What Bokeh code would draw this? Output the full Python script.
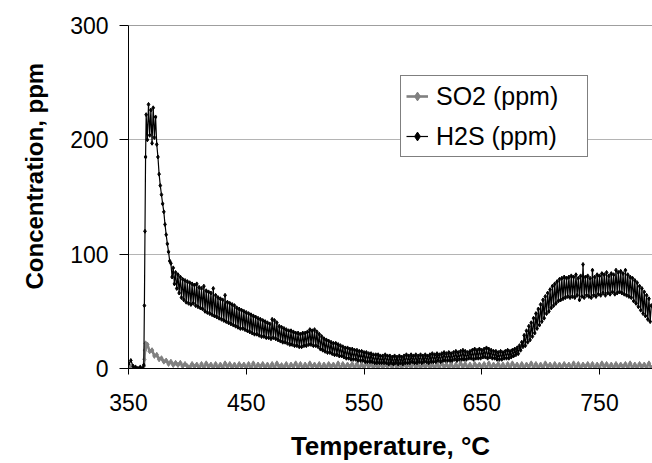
from bokeh.plotting import figure
from bokeh.models import (Range1d, FixedTicker, Span, Title, Legend, LegendItem)
from bokeh.embed import file_html
from bokeh.resources import INLINE

h2s_temp = [350, 352, 354, 356, 358, 360, 362, 363, 363.5, 364, 364.5] + list(range(365, 795))
h2s = [
    4, 7, 2, 1, 0, 1, 0, 3, 55, 120, 185,
    # 365-385
    222, 200, 231, 204, 226, 197, 228, 202, 220, 196,
    185, 170, 160, 152, 144, 137, 126, 117, 109, 102, 94,
    # 386-405
    92, 80, 88, 74, 84, 70, 82, 66, 80, 62, 78, 60, 77, 58, 76, 57, 75, 56, 74, 57,
    # 406-425
    73, 55, 74, 54, 71, 53, 70, 52, 72, 50, 68, 49, 67, 48, 66, 47, 70, 46, 64, 45,
    # 426-445
    62, 44, 61, 43, 60, 42, 64, 41, 58, 40, 57, 39, 56, 38, 55, 37, 53, 36, 52, 35,
    # 446-465
    51, 35, 50, 34, 49, 33, 48, 32, 47, 31, 46, 30, 45, 30, 44, 29, 43, 28, 42, 28,
    # 466-485
    41, 27, 40, 27, 39, 26, 43, 27, 42, 26, 40, 25, 37, 24, 36, 23, 35, 23, 34, 22,
    # 486-505
    33, 21, 33, 21, 32, 20, 31, 20, 31, 19, 30, 19, 31, 20, 31, 20, 32, 21, 34, 21,
    # 506-525
    33, 20, 34, 20, 32, 19, 30, 17, 28, 16, 26, 15, 25, 14, 24, 14, 23, 13, 22, 12,
    # 526-545
    22, 12, 21, 11, 20, 11, 19, 10, 18, 9, 18, 9, 17, 8, 17, 8, 16, 8, 16, 7,
    # 546-565
    15, 7, 15, 7, 14, 6, 14, 6, 13, 6, 13, 6, 12, 5, 12, 5, 12, 5, 11, 5,
    # 566-585
    11, 5, 12, 5, 11, 4, 11, 5, 10, 4, 11, 5, 10, 4, 11, 5, 10, 4, 11, 5,
    # 586-605
    12, 5, 11, 5, 12, 6, 11, 5, 12, 5, 11, 6, 12, 5, 11, 6, 12, 6, 11, 5,
    # 606-625
    12, 6, 13, 6, 12, 6, 13, 7, 12, 6, 13, 7, 14, 7, 13, 7, 14, 7, 13, 7,
    # 626-645
    14, 8, 15, 7, 14, 8, 15, 8, 16, 8, 15, 8, 14, 9, 15, 9, 16, 8, 17, 9,
    # 646-665
    16, 9, 17, 9, 16, 10, 17, 10, 18, 9, 17, 10, 16, 9, 15, 9, 15, 8, 14, 8,
    # 666-685
    15, 8, 14, 9, 15, 9, 16, 9, 15, 10, 16, 11, 17, 12, 18, 13, 20, 16, 23, 19,
    # 686-705
    29, 20, 33, 23, 37, 25, 40, 28, 44, 31, 48, 35, 52, 38, 56, 41, 60, 44, 63, 48,
    # 706-725
    66, 50, 69, 53, 72, 55, 74, 57, 76, 59, 78, 60, 79, 61, 80, 62, 79, 63, 80, 62,
    # 726-745
    81, 63, 80, 62, 82, 64, 79, 60, 81, 63, 91, 62, 80, 64, 81, 63, 79, 62, 86, 64,
    # 746-765
    80, 63, 82, 65, 81, 64, 83, 66, 82, 64, 84, 66, 81, 65, 83, 67, 82, 65, 86, 66,
    # 766-785
    84, 67, 85, 66, 83, 65, 86, 64, 82, 63, 80, 62, 79, 59, 77, 57, 75, 54, 72, 51,
    # 786-794
    70, 48, 67, 46, 64, 43, 61, 41, 55,
]

so2_temp = [350, 352, 354, 356, 358, 360, 362, 363, 363.5, 364, 364.5, 365] + list(range(366, 795, 2))
so2 = [
    1, 2, 0, 1, 0, 1, 0, 2, 8, 16, 22, 19,
    21, 15, 16, 11, 12, 8, 9, 6, 7, 4, 6, 3, 5, 3, 5, 2, 4, 2,
    1, 4, 1.5, 3.5, 0.5, 4, 1, 4.5, 1.5, 3.5,
    1, 4, 0.5, 3.5, 1, 4.5, 1.5, 4, 1, 3.5,
    0.5, 4, 1.5, 3.5, 1, 4, 0.5, 4.5, 1, 3.5,
    1.5, 4, 1, 3.5, 0.5, 4, 1, 4.5, 1.5, 3,
    1, 4, 0.5, 3.5, 1.5, 4.5, 1, 4, 0.5, 3.5,
    1, 4.5, 1.5, 3.5, 1, 4, 0.5, 3.5, 1, 4,
    1.5, 3.5, 1, 4.5, 0.5, 4, 1, 3.5, 1.5, 4,
    1, 4, 0.5, 3.5, 1, 4.5, 1.5, 4, 1, 3.5,
    0.5, 4, 1, 3.5, 1.5, 4, 1, 4.5, 0.5, 3.5,
    1, 4, 1.5, 3.5, 1, 4.5, 0.5, 4, 1, 3.5,
    1.5, 4, 1, 3.5, 0.5, 4, 1, 4.5, 1.5, 3.5,
    1, 4, 0.5, 3.5, 1, 4.5, 1.5, 4, 1, 3.5,
    0.5, 4, 1.5, 3.5, 1, 4, 0.5, 4.5, 1, 3.5,
    1.5, 4, 1, 3.5, 0.5, 4, 1, 4.5, 1.5, 3.5,
    1, 4, 0.5, 3.5, 1.5, 4.5, 1, 4, 0.5, 3.5,
    1, 4.5, 1.5, 3.5, 1, 4, 0.5, 3.5, 1, 4,
    1.5, 3.5, 1, 4.5, 0.5, 4, 1, 3.5, 1.5, 4,
    1, 4, 0.5, 3.5, 1, 4.5, 1.5, 4, 1, 3.5,
    0.5, 4, 1, 3.5, 1.5, 4, 1, 4.5, 0.5, 3.5,
    1, 4, 1.5, 3.5, 1, 4.5, 0.5,
]

assert len(h2s_temp) == len(h2s), (len(h2s_temp), len(h2s))
assert len(so2_temp) == len(so2), (len(so2_temp), len(so2))

x_ticks = [350, 450, 550, 650, 750]
y_ticks = [0, 100, 200, 300]
x_title = "Temperature, °C"
y_title = "Concentration, ppm"
series_names = ["SO2 (ppm)", "H2S (ppm)"]

FONT = "Liberation Sans"

p = figure(width=652, height=463, output_backend="svg", toolbar_location=None,
           x_range=Range1d(350, 795), y_range=Range1d(0, 300),
           min_border_left=128, min_border_right=0, min_border_top=25,
           min_border_bottom=94)
p.background_fill_color = "white"
p.border_fill_color = "white"
p.outline_line_color = None

# grid
p.xgrid.grid_line_color = None
p.ygrid.ticker = FixedTicker(ticks=y_ticks)
p.ygrid.grid_line_color = "#b4b4b4"
p.ygrid.grid_line_width = 1
p.add_layout(Span(location=300, dimension="width", line_color="#404040", line_width=1))

# axes
for ax in (p.xaxis[0], p.yaxis[0]):
    ax.axis_line_color = "black"
    ax.major_tick_line_color = "black"
    ax.major_tick_in = 0
    ax.minor_tick_line_color = None
    ax.major_label_text_font = FONT
    ax.major_label_text_font_size = "23px"
    ax.major_label_text_color = "black"

p.xaxis.ticker = FixedTicker(ticks=x_ticks)
p.xaxis.major_tick_out = 6
p.xaxis.major_label_standoff = 19
p.xaxis.axis_label = x_title
p.xaxis.axis_label_text_font = FONT
p.xaxis.axis_label_text_font_style = "bold"
p.xaxis.axis_label_text_font_size = "26px"
p.xaxis.axis_label_text_color = "black"
p.xaxis.axis_label_standoff = 17

p.yaxis.ticker = FixedTicker(ticks=y_ticks)
p.yaxis.major_tick_out = 9
p.yaxis.major_label_standoff = 11

# y title, left of the axis, starting a little above the frame bottom
ytitle = Title(text=y_title, align="left", vertical_align="middle", offset=79, standoff=38,
               text_font=FONT, text_font_style="bold", text_font_size="24px",
               text_color="black")
p.add_layout(ytitle, "left")

# series
l1 = p.line(so2_temp, so2, line_color="#808080", line_width=2.6)
m1 = p.scatter(so2_temp, so2, marker="diamond", size=5,
               line_color="#808080", fill_color="#808080")
l2 = p.line(h2s_temp, h2s, line_color="black", line_width=1.2)
m2 = p.scatter(h2s_temp, h2s, marker="diamond", size=4,
               line_color="black", fill_color="black")

legend = Legend(items=[LegendItem(label=series_names[0], renderers=[l1, m1]),
                       LegendItem(label=series_names[1], renderers=[l2, m2])],
                location=(400 - 128, 369 - 158))
legend.label_text_font = FONT
legend.label_text_font_size = "25px"
legend.label_text_color = "black"
legend.padding = 5
legend.spacing = 10
legend.glyph_width = 22
legend.glyph_height = 30
legend.label_height = 30
legend.label_width = 146
legend.label_standoff = 8
legend.margin = 0
legend.border_line_color = "black"
legend.border_line_width = 1
legend.background_fill_color = "white"
legend.background_fill_alpha = 1.0
p.add_layout(legend, "center")

open("out.html", "w").write(file_html(p, INLINE))
